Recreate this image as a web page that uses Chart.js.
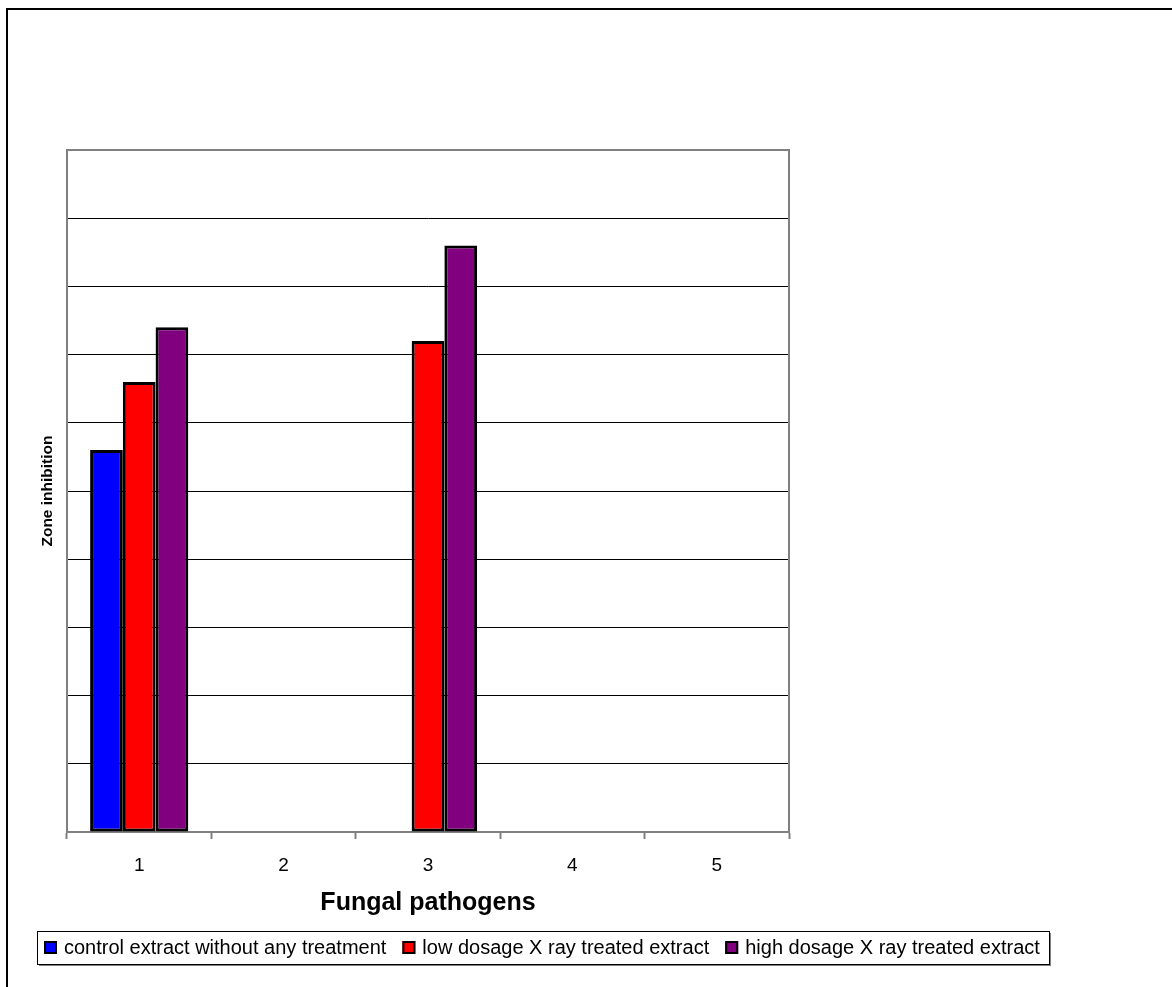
<!DOCTYPE html>
<html>
<head>
<meta charset="utf-8">
<script src="https://cdn.jsdelivr.net/npm/chart.js@4.4.1/dist/chart.umd.min.js"></script>
<style>
  html, body { margin: 0; padding: 0; background: #fff; }
  canvas { display: block; }
</style>
</head>
<body>
<canvas id="zoneChart" width="1172" height="987"></canvas>
<script>
// values (zone inhibition, axis 0..10)
const pathogens = ['1', '2', '3', '4', '5'];
const seriesNames = [
    'control extract without any treatment',
    'low dosage X ray treated extract',
    'high dosage X ray treated extract'
];
const controlValues = [5.6, 0, 0, 0, 0];
const lowDoseValues = [6.6, 0, 7.2, 0, 0];
const highDoseValues = [7.4, 0, 8.6, 0, 0];
const yTicks = [0, 1, 2, 3, 4, 5, 6, 7, 8, 9, 10];

const seriesColors = ['#0000FF', '#FF0000', '#800080'];

// outer frame, plot frame and the boxed legend
const framePlugin = {
    id: 'framePlugin',
    afterDraw(chart) {
        const ctx = chart.ctx;
        const area = chart.chartArea;
        ctx.save();

        // page frame (top and left only are visible)
        ctx.strokeStyle = '#000';
        ctx.lineWidth = 2;
        ctx.beginPath();
        ctx.moveTo(7, chart.height);
        ctx.lineTo(7, 9);
        ctx.lineTo(chart.width, 9);
        ctx.stroke();

        // right edge of plot
        ctx.strokeStyle = '#808080';
        ctx.lineWidth = 2;
        ctx.beginPath();
        ctx.moveTo(area.right, area.top - 1);
        ctx.lineTo(area.right, area.bottom);
        ctx.stroke();

        // legend box with shadow
        const lx = 37, ly = 931, lw = 1012, lh = 33;
        ctx.fillStyle = '#808080';
        ctx.fillRect(lx + 2, ly + 2, lw, lh);
        ctx.fillStyle = '#fff';
        ctx.fillRect(lx, ly, lw, lh);
        ctx.strokeStyle = '#000';
        ctx.lineWidth = 1;
        ctx.strokeRect(lx + 0.5, ly + 0.5, lw, lh);

        ctx.font = '20px "Liberation Sans", Arial, sans-serif';
        ctx.textBaseline = 'middle';
        let x = 44;
        chart.data.datasets.forEach(ds => {
            ctx.fillStyle = ds.backgroundColor;
            ctx.fillRect(x, 941, 13, 13);
            ctx.strokeStyle = '#000';
            ctx.lineWidth = 2;
            ctx.strokeRect(x + 1, 942, 11, 11);
            ctx.fillStyle = '#000';
            ctx.fillText(ds.label, x + 20, 948);
            x += 20 + ctx.measureText(ds.label).width + 16;
        });

        ctx.restore();
    }
};

const ctx = document.getElementById('zoneChart').getContext('2d');

new Chart(ctx, {
    type: 'bar',
    data: {
        labels: pathogens,
        datasets: [{
            label: seriesNames[0],
            data: controlValues,
            backgroundColor: seriesColors[0],
            borderColor: '#000',
            borderWidth: 3,
            borderSkipped: false
        }, {
            label: seriesNames[1],
            data: lowDoseValues,
            backgroundColor: seriesColors[1],
            borderColor: '#000',
            borderWidth: 3,
            borderSkipped: false
        }, {
            label: seriesNames[2],
            data: highDoseValues,
            backgroundColor: seriesColors[2],
            borderColor: '#000',
            borderWidth: 3,
            borderSkipped: false
        }]
    },
    options: {
        responsive: false,
        animation: false,
        devicePixelRatio: 1,
        categoryPercentage: 0.68,
        barPercentage: 1.0,
        layout: {
            padding: { top: 150, right: 383, left: 0, bottom: 60 }
        },
        plugins: {
            legend: { display: false },
            tooltip: { enabled: false }
        },
        scales: {
            x: {
                grid: {
                    offset: true,
                    drawOnChartArea: false,
                    drawTicks: true,
                    tickLength: 7,
                    tickColor: '#808080',
                    tickWidth: 2
                },
                border: { color: '#808080', width: 2 },
                ticks: {
                    color: '#000',
                    padding: 15,
                    font: { family: '"Liberation Sans", Arial, sans-serif', size: 19 }
                },
                title: {
                    display: true,
                    text: 'Fungal pathogens',
                    color: '#000',
                    padding: { top: 0, bottom: 9 },
                    font: { family: '"Liberation Sans", Arial, sans-serif', size: 25, weight: 'bold' }
                },
                afterFit(scale) { scale.height = 95; }
            },
            y: {
                min: yTicks[0],
                max: yTicks[yTicks.length - 1],
                afterBuildTicks(scale) {
                    scale.ticks = yTicks.map(v => ({ value: v }));
                },
                grid: {
                    drawTicks: false,
                    color: c => (c.tick && c.tick.value === 10 ? '#808080' : '#000'),
                    lineWidth: c => (c.tick && c.tick.value === 10 ? 2 : 1)
                },
                border: { color: '#808080', width: 2 },
                ticks: { display: false },
                title: {
                    display: true,
                    text: 'Zone inhibition',
                    color: '#000',
                    padding: { top: 38, bottom: 0 },
                    font: { family: '"Liberation Sans", Arial, sans-serif', size: 15.5, weight: 'bold' }
                },
                afterFit(scale) { scale.width = 67; }
            }
        }
    },
    plugins: [framePlugin]
});
</script>
</body>
</html>
